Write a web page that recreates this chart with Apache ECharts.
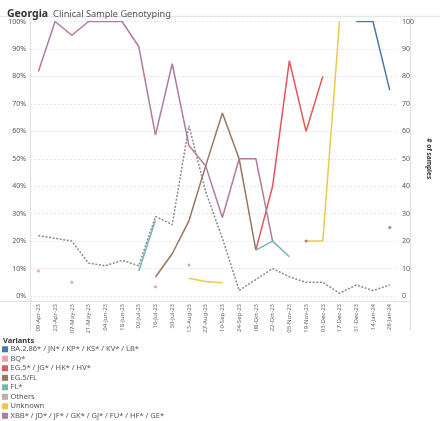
<!DOCTYPE html>
<html><head><meta charset="utf-8">
<script src="https://cdn.jsdelivr.net/npm/echarts@6/dist/echarts.min.js"></script>
<style>html,body{margin:0;padding:0;background:#fff}#c{width:440px;height:421px}</style>
</head><body><div id="c"></div>
<script>
const dates = ['09-Apr-23','23-Apr-23','07-May-23','21-May-23','04-Jun-23','18-Jun-23','02-Jul-23','16-Jul-23','30-Jul-23','13-Aug-23','27-Aug-23','10-Sep-23','24-Sep-23','08-Oct-23','22-Oct-23','05-Nov-23','19-Nov-23','03-Dec-23','17-Dec-23','31-Dec-23','14-Jan-24','28-Jan-24'];
const N = null;
const ba286   = [N,N,N,N,N,N,N,N,N,N,N,N,N,N,N,N,N,N,N,100,100,75];
const bq      = [9.1,N,5,N,N,N,N,N,N,N,N,N,N,N,N,N,N,N,N,N,N,N];
const eg5     = [N,N,N,N,N,N,N,N,N,N,N,N,N,16.7,40,85.7,60,80,N,N,N,N];
const eg5fl   = [N,N,N,N,N,N,N,6.9,15.4,27.4,47.4,66.7,50,16.7,N,N,N,N,N,N,N,N];
const fl      = [N,N,N,N,N,N,9.1,27.6,N,N,N,N,N,16.7,20,14.3,N,N,N,N,N,N];
const others  = [N,N,N,N,N,N,N,3.4,N,11.3,N,N,N,N,N,N,N,N,N,N,N,N];
const unknown = [N,N,N,N,N,N,N,N,N,6.5,5.3,4.8,N,N,N,N,20,20,100,N,N,N];
const xbb     = [81.8,100,95,100,100,100,90.9,58.6,84.6,54.8,47.4,28.6,50,50,20,N,20,N,N,N,N,25];
const samples = [22,21,20,12,11,13,11,29,26,62,38,21,2,6,10,7,5,5,1,4,2,4];

const variants = [
  {name:'BA.2.86* / JN* / KP* / KS* / KV* / LB*', data:ba286, color:'#4e79a7'},
  {name:'BQ*', data:bq, color:'#ff9da7'},
  {name:'EG.5* / JG* / HK* / HV*', data:eg5, color:'#e15759'},
  {name:'EG.5/FL', data:eg5fl, color:'#9c755f'},
  {name:'FL*', data:fl, color:'#76b7b2'},
  {name:'Others', data:others, color:'#bab0ac'},
  {name:'Unknown', data:unknown, color:'#edc948'},
  {name:'XBB* / JD* / JF* / GK* / GJ* / FU* / HF* / GE*', data:xbb, color:'#b07aa1'}
];
function toItems(arr){
  return arr.map((v,i)=>{
    if(v===null) return null;
    const prev = i>0 ? arr[i-1] : null, next = i<arr.length-1 ? arr[i+1] : null;
    const iso = prev===null && next===null;
    return iso ? {value:v, symbol:'circle', symbolSize:3} : {value:v, symbol:'none'};
  });
}
const FF = '"Noto Sans", "Open Sans", sans-serif';
const series = variants.map(v=>({
  name:v.name, type:'line', yAxisIndex:0, data:toItems(v.data),
  symbol:'circle', symbolSize:3, showSymbol:true, connectNulls:false,
  lineStyle:{color:v.color, width:1.5}, itemStyle:{color:v.color}, z:3
}));
series.push({
  name:'# of samples', type:'line', yAxisIndex:1, data:samples, symbol:'none',
  lineStyle:{color:'#8a8a8a', width:1.5, type:[2,1.6]}, itemStyle:{color:'#8a8a8a'}, z:2
});
const legendGraphics = [];
variants.forEach((v,i)=>{
  const cy = 349.3 + i*9.5;
  legendGraphics.push({type:'rect', shape:{x:2, y:cy-3, width:6, height:6}, style:{fill:v.color}, silent:true});
  legendGraphics.push({type:'text', x:10.5, y:cy, style:{text:v.name, fontSize:7.5, fill:'#555', fontFamily:FF, verticalAlign:'middle', align:'left'}, silent:true});
});
const chart = echarts.init(document.getElementById('c'), null, {renderer:'canvas'});
chart.setOption({
  animation:false,
  color: variants.map(v=>v.color),
  title:{
    text:'{a|Georgia} {b|Clinical Sample Genotyping}', left:2, top:0,
    textStyle:{fontWeight:'normal', rich:{a:{fontSize:10.5,fontWeight:'bold',color:'#333',fontFamily:FF},b:{fontSize:9.2,fontWeight:'normal',color:'#555',fontFamily:FF}}}
  },
  grid:{left:30, right:30, top:21.5, bottom:125, containLabel:false},
  xAxis:{
    type:'category', data:dates, boundaryGap:true,
    axisLine:{show:false}, axisTick:{show:false},
    axisLabel:{rotate:90, fontSize:6, color:'#666', margin:8, fontFamily:FF, interval:0}
  },
  yAxis:[
    {type:'value', min:0, max:100, interval:10,
     axisLabel:{formatter:'{value}%', fontSize:7, color:'#555', margin:4, fontFamily:FF},
     axisLine:{show:false}, axisTick:{show:false},
     splitLine:{show:true, lineStyle:{color:'#ece4e4', type:[2,2], width:1}}},
    {type:'value', min:0, max:100, interval:10, position:'right',
     name:'# of samples', nameLocation:'middle', nameRotate:-90, nameGap:22,
     nameTextStyle:{fontSize:6.5, fontWeight:'bold', color:'#333', fontFamily:FF},
     axisLabel:{fontSize:7, color:'#555', margin:4, fontFamily:FF},
     axisLine:{show:false}, axisTick:{show:false}, splitLine:{show:false}}
  ],
  graphic:[
    {type:'line', shape:{x1:0,y1:16.5,x2:440,y2:16.5}, style:{stroke:'#e6e6e6', lineWidth:1.5}, silent:true},
    {type:'line', shape:{x1:0,y1:301.5,x2:410,y2:301.5}, style:{stroke:'#e0e0e0', lineWidth:1}, silent:true},
    {type:'line', shape:{x1:30.5,y1:17,x2:30.5,y2:331}, style:{stroke:'#e0e0e0', lineWidth:1}, silent:true},
    {type:'line', shape:{x1:410.5,y1:17,x2:410.5,y2:331}, style:{stroke:'#e0e0e0', lineWidth:1}, silent:true},
    {type:'text', x:3, y:340.7, style:{text:'Variants', fontSize:7.5, fontWeight:'bold', fill:'#333', fontFamily:FF, verticalAlign:'middle'}, silent:true}
  ].concat(legendGraphics),
  series: series
});
</script></body></html>
